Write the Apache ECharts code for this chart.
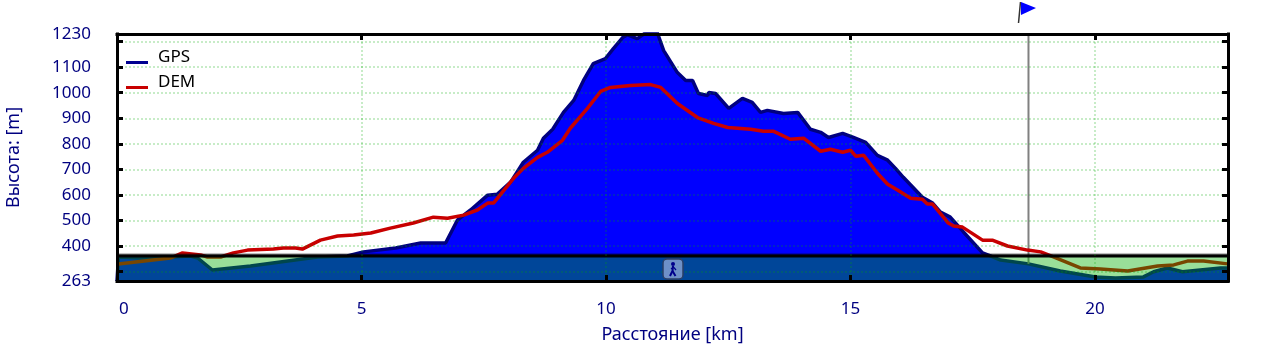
<!DOCTYPE html>
<html>
<head>
<meta charset="utf-8">
<style>
  html, body { margin: 0; padding: 0; background: #fff; }
  #chart { width: 1286px; height: 359px; }
</style>
</head>
<body>
<div id="chart"></div>
<script src="https://cdn.jsdelivr.net/npm/echarts@6/dist/echarts.min.js"></script>
<script>
  // profile: km and metres
  const gpsKm = [0, 0.03, 0.48, 1.09, 1.5, 1.65, 1.95, 2.73, 4.1, 4.71, 5.04, 5.7, 6.21, 6.72, 6.76, 6.96, 7.23, 7.58, 7.78, 8.05, 8.31, 8.6, 8.72, 8.91, 9.13, 9.34, 9.54, 9.74, 9.99, 10.15, 10.34, 10.44, 10.64, 10.81, 11.05, 11.18, 11.46, 11.63, 11.77, 11.89, 12.08, 12.1, 12.24, 12.51, 12.79, 12.99, 13.16, 13.3, 13.63, 13.92, 14.18, 14.39, 14.55, 14.84, 15.06, 15.31, 15.55, 15.76, 15.92, 16.08, 16.47, 16.68, 16.84, 17.04, 17.31, 17.7, 17.86, 18.07, 18.64, 19.29, 20.01, 20.42, 20.99, 21.2, 21.48, 21.79, 22.57, 22.73]
  const gpsElev = [263, 357, 353, 357, 361, 353, 306, 322, 357, 361, 377, 392, 412, 412, 412, 501, 541, 599, 603, 650, 728, 775, 822, 857, 923, 970, 1048, 1114, 1134, 1173, 1216, 1227, 1212, 1235, 1235, 1165, 1079, 1048, 1048, 997, 989, 1001, 997, 939, 978, 962, 923, 931, 919, 923, 857, 845, 825, 841, 825, 806, 755, 736, 704, 669, 591, 568, 533, 513, 455, 373, 361, 345, 330, 302, 279, 275, 279, 299, 314, 299, 314, 314]

  const demKm = [0.03, 1.09, 1.34, 1.71, 1.85, 2.12, 2.38, 2.67, 3.2, 3.4, 3.65, 3.79, 4.16, 4.51, 4.84, 5.19, 5.59, 6.06, 6.47, 6.76, 7.09, 7.37, 7.58, 7.7, 8.11, 8.31, 8.6, 8.8, 9.11, 9.27, 9.62, 9.89, 10.09, 10.5, 10.91, 11.12, 11.46, 11.87, 12.2, 12.49, 12.96, 13.22, 13.43, 13.77, 14.04, 14.39, 14.59, 14.84, 15, 15.11, 15.27, 15.55, 15.76, 15.96, 16.23, 16.47, 16.57, 16.68, 17, 17.11, 17.29, 17.7, 17.9, 18.21, 18.62, 18.89, 19.15, 19.7, 20.11, 20.67, 21.28, 21.61, 21.89, 22.22, 22.71]
  const demElev = [330, 353, 373, 365, 357, 357, 373, 384, 388, 392, 392, 388, 423, 439, 443, 451, 470, 490, 513, 509, 521, 541, 568, 568, 665, 704, 747, 767, 814, 861, 939, 1005, 1021, 1028, 1032, 1021, 958, 903, 880, 864, 857, 849, 849, 818, 822, 771, 779, 767, 775, 751, 755, 685, 642, 619, 587, 583, 564, 564, 490, 478, 474, 423, 423, 400, 384, 377, 357, 314, 310, 302, 322, 326, 341, 341, 330]

  const yMin = 263
  const yMax = 1230
  const xMax = 22.72
  const yTicks = [300, 400, 500, 600, 700, 800, 900, 1000, 1100, 1200]
  const yLabels = [263, 400, 500, 600, 700, 800, 900, 1000, 1100, 1230]
  const waterLevel = 361
  const flagKm = 18.64
  const flagElev = 330

  const pairs = (xs, ys) => xs.map((x, i) => [x, ys[i]])

  const FONT = '"Noto Sans", sans-serif'
  const AXIS_BLUE = '#000080'
  const GRID_DOTS = { show: true, lineStyle: { color: 'rgba(0,170,0,0.22)', width: 2, type: [2, 2] } }
  const FRAME = { show: true, onZero: false, lineStyle: { color: '#000', width: 3, cap: 'square' } }
  const TICKS = { show: true, inside: true, length: 6, lineStyle: { color: '#000', width: 3 } }
  // legend bar sits below the middle of its text
  const LEGEND_BAR = 'path://M0,0 L0.01,0 L0.01,0.01 Z M0,10 L22,10 L22,13 L0,13 Z'

  let elem = echarts.init(document.getElementById('chart'), null, { renderer: 'canvas' })
  let option = {
    animation: false,
    textStyle: { fontFamily: FONT },
    grid: { left: 117, right: 58, top: 34, bottom: 78, outerBoundsMode: 'none' },
    legend: {
      data: ['GPS', 'DEM'],
      orient: 'vertical',
      left: 126,
      top: 49,
      padding: 0,
      icon: LEGEND_BAR,
      itemWidth: 22,
      itemHeight: 13,
      itemGap: 8,
      textStyle: { color: '#000', fontSize: 17, fontFamily: FONT, padding: [0, 0, 0, 5] }
    },
    xAxis: [
      {
        type: 'value',
        min: 0,
        max: xMax,
        interval: 5,
        name: 'Расстояние [km]',
        nameLocation: 'middle',
        nameGap: 45,
        nameTextStyle: { color: AXIS_BLUE, fontSize: 18, fontFamily: FONT },
        axisLine: FRAME,
        axisTick: TICKS,
        axisLabel: {
          color: AXIS_BLUE,
          fontSize: 17,
          fontFamily: FONT,
          margin: 20,
          alignMinLabel: 'left',
          showMaxLabel: false,
          formatter: (v) => (v === 0 ? '{first|0}' : String(v)),
          rich: { first: { color: AXIS_BLUE, fontSize: 17, fontFamily: FONT, padding: [0, 0, 0, 2] } }
        },
        splitLine: GRID_DOTS,
        z: 5
      },
      {
        type: 'value',
        position: 'top',
        min: 0,
        max: xMax,
        interval: 5,
        axisLine: FRAME,
        axisTick: TICKS,
        axisLabel: { show: false },
        splitLine: { show: false },
        z: 5
      }
    ],
    yAxis: [
      {
        type: 'value',
        min: yMin,
        max: yMax,
        name: 'Высота: [m]',
        nameLocation: 'middle',
        nameGap: 94,
        nameTextStyle: { color: AXIS_BLUE, fontSize: 18, fontFamily: FONT },
        axisLine: FRAME,
        axisTick: Object.assign({ customValues: yTicks }, TICKS),
        axisLabel: {
          customValues: yLabels,
          formatter: (v) => String(v),
          color: AXIS_BLUE,
          fontSize: 17,
          fontFamily: FONT,
          margin: 26,
          padding: [4, 0, 0, 0]
        },
        splitLine: GRID_DOTS,
        z: 5
      },
      {
        type: 'value',
        position: 'right',
        min: yMin,
        max: yMax,
        axisLine: FRAME,
        axisTick: Object.assign({ customValues: yTicks }, TICKS),
        axisLabel: { show: false },
        splitLine: { show: false },
        z: 5
      }
    ],
    series: [
      {
        name: 'GPS',
        type: 'line',
        showSymbol: false,
        z: 2,
        data: pairs(gpsKm, gpsElev),
        itemStyle: { color: '#000090' },
        lineStyle: { color: '#000080', width: 3.5 },
        areaStyle: { color: '#0000ff', opacity: 1, origin: 'start' }
      },
      {
        name: 'flag',
        type: 'line',
        showSymbol: false,
        z: 2,
        data: [[flagKm, flagElev], [flagKm, yMax]],
        lineStyle: { color: '#808080', width: 2 }
      },
      {
        name: 'DEM',
        type: 'line',
        showSymbol: false,
        z: 2,
        data: pairs(demKm, demElev),
        itemStyle: { color: '#c80000' },
        lineStyle: { color: '#c80000', width: 3.5 }
      },
      {
        name: 'water',
        type: 'line',
        showSymbol: false,
        z: 3,
        data: [[0, waterLevel], [xMax, waterLevel]],
        lineStyle: { color: '#000', width: 3, shadowColor: 'rgba(0,0,0,0.5)', shadowBlur: 1, shadowOffsetY: -1 },
        areaStyle: { color: 'rgb(0,174,0)', opacity: 0.4, origin: 'start' }
      }
    ],
    graphic: [
      // flag above the track position
      { type: 'line', z: 100, shape: { x1: 1020.5, y1: 2, x2: 1018.5, y2: 23 }, style: { stroke: '#333', lineWidth: 1.5 } },
      { type: 'polygon', z: 100, shape: { points: [[1021, 2], [1036, 8], [1021, 15]] }, style: { fill: '#0000ff' } },
      // walker button
      { type: 'rect', z: 100, shape: { x: 663, y: 259, width: 20, height: 20, r: 4 }, style: { fill: '#6e90c8', stroke: '#2b3f66', lineWidth: 1.5 } },
      { type: 'circle', z: 101, shape: { cx: 673, cy: 264, r: 2 }, style: { fill: '#00008b' } },
      { type: 'polyline', z: 101, shape: { points: [[673, 266], [672.5, 271], [670, 276]] }, style: { stroke: '#00008b', lineWidth: 2, fill: null } },
      { type: 'polyline', z: 101, shape: { points: [[672.5, 271], [675.5, 276]] }, style: { stroke: '#00008b', lineWidth: 2, fill: null } },
      { type: 'polyline', z: 101, shape: { points: [[671, 269], [673.5, 267], [676, 270]] }, style: { stroke: '#00008b', lineWidth: 1.2, fill: null } }
    ]
  }
  elem.setOption(option)
</script>
</body>
</html>
